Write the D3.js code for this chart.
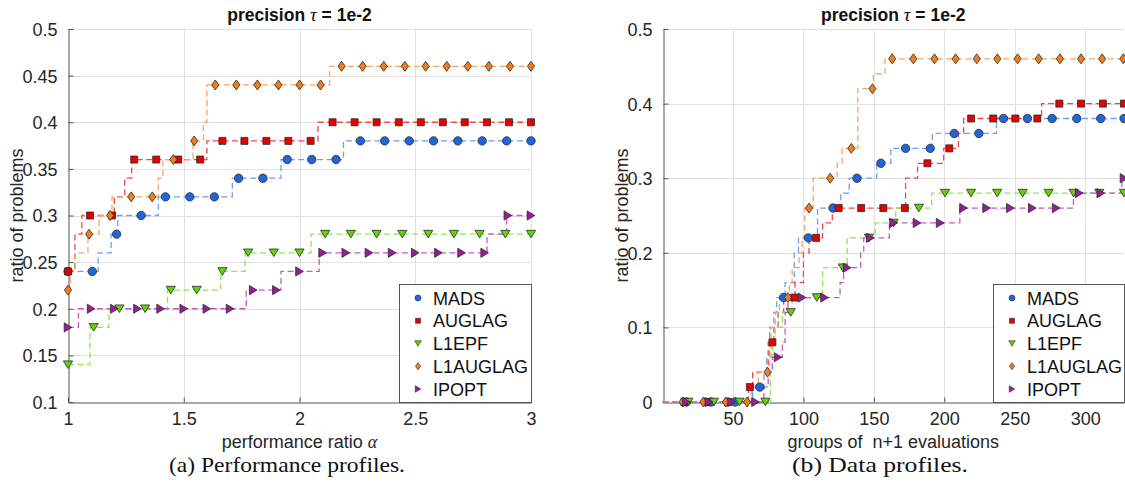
<!DOCTYPE html>
<html><head><meta charset="utf-8">
<script src="https://cdn.jsdelivr.net/npm/d3@7"></script>
<style>body{margin:0;background:#fff} svg{display:block}</style>
</head><body><svg id="chart" width="1125" height="487"></svg>
<script>
// ---------- data ----------
const seriesNames = ["MADS", "AUGLAG", "L1EPF", "L1AUGLAG", "IPOPT"];

// (a) performance profiles: step breakpoints (x) and ratio values (y), and marker abscissae
const perfMadsX = [1, 1.13, 1.186, 1.215, 1.39, 1.71, 1.92, 2.19, 3];
const perfMadsY = [0.24, 0.26, 0.28, 0.30, 0.32, 0.34, 0.36, 0.38, 0.38];
const perfMadsM = [1.0, 1.105, 1.21, 1.316, 1.421, 1.526, 1.632, 1.737, 1.842, 1.947, 2.053, 2.158, 2.263, 2.368, 2.474, 2.579, 2.684, 2.789, 2.895, 3.0];

const perfAuglagX = [1, 1.03, 1.06, 1.20, 1.245, 1.275, 1.60, 2.08, 3];
const perfAuglagY = [0.24, 0.28, 0.30, 0.32, 0.34, 0.36, 0.38, 0.40, 0.40];
const perfAuglagM = [1.0, 1.095, 1.19, 1.286, 1.381, 1.476, 1.571, 1.667, 1.762, 1.857, 1.952, 2.048, 2.143, 2.238, 2.333, 2.429, 2.524, 2.619, 2.714, 2.81, 2.905, 3.0];

const perfL1epfX = [1, 1.095, 1.177, 1.43, 1.66, 1.765, 2.05, 3];
const perfL1epfY = [0.14, 0.18, 0.20, 0.22, 0.24, 0.26, 0.28, 0.28];
const perfL1epfM = [1.0, 1.111, 1.222, 1.333, 1.444, 1.556, 1.667, 1.778, 1.889, 2.0, 2.111, 2.222, 2.333, 2.444, 2.556, 2.667, 2.778, 2.889, 3.0];

const perfL1auglagX = [1, 1.01, 1.03, 1.086, 1.134, 1.19, 1.39, 1.41, 1.54, 1.585, 1.60, 2.13, 3];
const perfL1auglagY = [0.22, 0.24, 0.26, 0.28, 0.30, 0.32, 0.34, 0.36, 0.38, 0.40, 0.44, 0.46, 0.46];
const perfL1auglagM = [1.0, 1.091, 1.182, 1.273, 1.364, 1.455, 1.545, 1.636, 1.727, 1.818, 1.909, 2.0, 2.091, 2.182, 2.273, 2.364, 2.455, 2.545, 2.636, 2.727, 2.818, 2.909, 3.0];

const perfIpoptX = [1, 1.045, 1.77, 1.92, 2.085, 2.81, 2.895, 3];
const perfIpoptY = [0.18, 0.20, 0.22, 0.24, 0.26, 0.28, 0.30, 0.30];
const perfIpoptM = [1.0, 1.1, 1.2, 1.3, 1.4, 1.5, 1.6, 1.7, 1.8, 1.9, 2.0, 2.1, 2.2, 2.3, 2.4, 2.5, 2.6, 2.7, 2.8, 2.9, 3.0];

// (b) data profiles
const dataMadsX = [0, 64, 72, 74, 76, 79, 81, 87, 93.5, 96.5, 110, 126.5, 132.5, 152, 162, 191.5, 237, 327.5];
const dataMadsY = [0, 0.02, 0.04, 0.06, 0.10, 0.12, 0.14, 0.16, 0.20, 0.22, 0.26, 0.28, 0.30, 0.32, 0.34, 0.36, 0.38, 0.38];
const dataMadsM = [17, 34.5, 51.5, 69, 86, 103.5, 121, 138, 155, 172.5, 190, 207, 224.5, 242, 259, 276.5, 294, 311, 327.5];

const dataAuglagX = [0, 61, 64, 75, 79, 82, 86, 94, 100, 104, 113.6, 120.5, 172.5, 181, 199.5, 210, 213.7, 269, 327.5];
const dataAuglagY = [0, 0.02, 0.04, 0.08, 0.10, 0.12, 0.14, 0.16, 0.20, 0.22, 0.24, 0.26, 0.30, 0.32, 0.34, 0.36, 0.38, 0.40, 0.40];
const dataAuglagM = [15.5, 31, 46.5, 62, 78, 93.5, 109, 125, 141, 156.7, 172, 188, 203.5, 219, 234.7, 250.4, 266, 281.6, 297, 312.5, 327.5];

const dataL1epfX = [0, 76.5, 78, 80, 85, 92, 113.6, 131, 151, 165.5, 191, 327.5];
const dataL1epfY = [0, 0.04, 0.08, 0.10, 0.12, 0.14, 0.18, 0.22, 0.24, 0.26, 0.28, 0.28];
const dataL1epfM = [18.4, 36.5, 54.6, 73, 91, 109.5, 128, 146.5, 164, 182, 200.5, 219, 237.5, 255.6, 274, 291.7, 310, 327.5];

const dataL1auglagX = [0, 63, 68, 76, 77, 80, 83, 90, 92, 97, 99, 101, 107, 124, 127.5, 138.6, 149.6, 158, 327.5];
const dataL1auglagY = [0, 0.02, 0.04, 0.06, 0.10, 0.12, 0.14, 0.16, 0.18, 0.20, 0.22, 0.26, 0.30, 0.32, 0.34, 0.42, 0.44, 0.46, 0.46];
const dataL1auglagM = [14.3, 29, 45, 60, 74.5, 89, 104, 119, 134, 149, 163, 178, 193, 208, 223, 237.6, 252, 267, 282, 297, 312, 327];

const dataIpoptX = [0, 72, 75, 78, 85, 87, 89, 126, 128.5, 140.6, 142.8, 161, 211, 291.6, 326, 327.5];
const dataIpoptY = [0, 0.02, 0.04, 0.06, 0.08, 0.12, 0.14, 0.16, 0.18, 0.20, 0.22, 0.24, 0.26, 0.28, 0.30, 0.30];
const dataIpoptM = [17, 33, 49, 66, 82, 99, 115, 131, 147.5, 164, 180.6, 197, 213.6, 230, 246.8, 262.4, 279.4, 295.7, 311, 327.5];

// ticks
const perfXTicks = [1, 1.5, 2, 2.5, 3];
const perfYTicks = [0.1, 0.15, 0.2, 0.25, 0.3, 0.35, 0.4, 0.45, 0.5];
const dataXTicks = [50, 100, 150, 200, 250, 300];
const dataYTicks = [0, 0.1, 0.2, 0.3, 0.4, 0.5];

// ---------- styles ----------
const markerFill = ["#1f66dd", "#e80000", "#63d400", "#f07d1a", "#9a1c9a"];
const lineColor  = ["#6f9ff0", "#f04848", "#8ce65a", "#f7a566", "#c45cc4"];
const shapes     = ["circle", "square", "triDown", "diamond", "triRight"];
const TEXT = "#262626";
const FONT = "'Liberation Sans', Arial, sans-serif";

function shapePath(shape, s) {
  switch (shape) {
    case "circle": { const r = 4.2 * s; return `M${r},0A${r},${r} 0 1,1 ${-r},0A${r},${r} 0 1,1 ${r},0Z`; }
    case "square": { const h = 3.5 * s; return `M${-h},${-h}H${h}V${h}H${-h}Z`; }
    case "diamond": { const w = 3.6 * s, h = 5 * s; return `M0,${-h}L${w},0L0,${h}L${-w},0Z`; }
    case "triDown": { const w = 4.6 * s, h = 3.8 * s; return `M${-w},${-h}L${w},${-h}L0,${h}Z`; }
    case "triRight": { const w = 3.8 * s, h = 4.6 * s; return `M${-w},${-h}L${w},0L${-w},${h}Z`; }
  }
}

const svg = d3.select("#chart");

function stepValue(xs, ys, x) {
  const i = Math.max(0, d3.bisectRight(xs, x) - 1);
  return ys[i];
}

function drawPanel(cfg) {
  const g = svg.append("g");
  const x = d3.scaleLinear().domain(cfg.xDomain).range(cfg.xRange);
  const y = d3.scaleLinear().domain(cfg.yDomain).range(cfg.yRange);
  const [x0, x1] = cfg.xRange, [y0, y1] = cfg.yRange;

  // grid
  g.append("g").selectAll("line").data(cfg.xTicks.filter(t => Math.abs(x(t) - x0) > 1))
    .join("line").attr("x1", d => Math.round(x(d)) + 0.5).attr("x2", d => Math.round(x(d)) + 0.5)
    .attr("y1", y0).attr("y2", y1).attr("stroke", "#e1e1e1").attr("stroke-width", 1);
  g.append("g").selectAll("line").data(cfg.yTicks.filter(t => Math.abs(y(t) - y0) > 1))
    .join("line").attr("y1", d => Math.round(y(d)) + 0.5).attr("y2", d => Math.round(y(d)) + 0.5)
    .attr("x1", x0).attr("x2", x1).attr("stroke", "#e1e1e1").attr("stroke-width", 1);

  // axes
  const xAxis = d3.axisBottom(x).tickValues(cfg.xTicks).tickFormat(d3.format("~g")).tickSizeInner(-5).tickSizeOuter(0).tickPadding(10);
  const yAxis = d3.axisLeft(y).tickValues(cfg.yTicks).tickFormat(d3.format("~g")).tickSizeInner(-5).tickSizeOuter(0).tickPadding(11);
  const gx = g.append("g").attr("transform", `translate(0,${Math.round(y0) + 0.5})`).call(xAxis);
  const gy = g.append("g").attr("transform", `translate(${Math.round(x0) + 0.5},0)`).call(yAxis);
  [gx, gy].forEach(a => {
    a.select(".domain").attr("stroke", "#555").attr("stroke-width", 1);
    a.selectAll(".tick line").attr("stroke", "#555");
    a.selectAll("text").attr("fill", TEXT).style("font-family", FONT).style("font-size", "18px");
  });
  gy.selectAll(".tick text").attr("dy", "0.36em");
  gx.selectAll(".tick text").attr("dy", "0.72em");

  // lines
  const line = d3.line().x(d => x(d[0])).y(d => y(d[1])).curve(d3.curveStepAfter);
  cfg.series.forEach((s, i) => {
    g.append("path").datum(d3.zip(s.x, s.y)).attr("d", line)
      .attr("fill", "none").attr("stroke", lineColor[i]).attr("stroke-width", 1.3)
      .attr("stroke-dasharray", "6,3.5");
  });
  // markers
  cfg.series.forEach((s, i) => {
    g.append("g").selectAll("path").data(s.m).join("path")
      .attr("transform", d => `translate(${x(d)},${y(stepValue(s.x, s.y, d))})`)
      .attr("d", shapePath(shapes[i], 1))
      .attr("fill", markerFill[i]).attr("stroke", "#2b2b2b").attr("stroke-width", 0.8);
  });

  // titles & labels
  const cx = (x0 + x1) / 2;
  const t = g.append("text").attr("x", cx).attr("y", 21).attr("text-anchor", "middle")
    .attr("fill", "#111").style("font-family", FONT).style("font-size", "17.5px").style("font-weight", "bold");
  t.append("tspan").text("precision ");
  t.append("tspan").text("τ").style("font-family", "'Liberation Serif', serif").style("font-style", "italic").style("font-weight", "normal").style("font-size", "19px");
  t.append("tspan").text(" = 1e-2");

  const xl = g.append("text").attr("x", cx).attr("y", 448).attr("text-anchor", "middle")
    .attr("fill", TEXT).style("font-family", FONT).style("font-size", "18px").style("white-space", "pre");
  xl.append("tspan").text(cfg.xLabel);
  if (cfg.xLabelGreek) xl.append("tspan").text(cfg.xLabelGreek).style("font-family", "'Liberation Serif', serif").style("font-style", "italic");

  g.append("text").attr("transform", `translate(${cfg.yLabelX},${(y0 + y1) / 2}) rotate(-90)`)
    .attr("text-anchor", "middle").attr("fill", TEXT).style("font-family", FONT).style("font-size", "18px")
    .text("ratio of problems");

  // legend
  const lg = g.append("g");
  lg.append("rect").attr("x", cfg.legend[0] + 0.5).attr("y", cfg.legend[1] + 0.5)
    .attr("width", cfg.legend[2]).attr("height", cfg.legend[3])
    .attr("fill", "#fff").attr("stroke", "#333").attr("stroke-width", 0.8);
  seriesNames.forEach((n, i) => {
    const yy = cfg.legend[1] + 14 + i * 22.75;
    lg.append("path").attr("transform", `translate(${cfg.legend[0] + 19},${yy})`)
      .attr("d", shapePath(shapes[i], 0.72)).attr("fill", markerFill[i]).attr("stroke", "#2b2b2b").attr("stroke-width", 0.6);
    lg.append("text").attr("x", cfg.legend[0] + 34).attr("y", yy + 6.5).attr("fill", "#111")
      .style("font-family", FONT).style("font-size", "18px").text(n);
  });

  // caption
  svg.append("text").attr("x", cfg.caption[1]).attr("y", 472).attr("text-anchor", "middle")
    .attr("fill", "#111").style("font-family", "'Liberation Serif', 'Times New Roman', serif").style("font-size", "21px")
    .attr("textLength", cfg.caption[2]).attr("lengthAdjust", "spacingAndGlyphs")
    .text(cfg.caption[0]);
}

drawPanel({
  xDomain: [1, 3], xRange: [68, 531], yDomain: [0.1, 0.5], yRange: [402, 29],
  xTicks: perfXTicks, yTicks: perfYTicks,
  series: [
    { x: perfMadsX, y: perfMadsY, m: perfMadsM },
    { x: perfAuglagX, y: perfAuglagY, m: perfAuglagM },
    { x: perfL1epfX, y: perfL1epfY, m: perfL1epfM },
    { x: perfL1auglagX, y: perfL1auglagY, m: perfL1auglagM },
    { x: perfIpoptX, y: perfIpoptY, m: perfIpoptM }
  ],
  xLabel: "performance ratio ", xLabelGreek: "α",
  yLabelX: 23,
  legend: [399, 284, 132, 118],
  caption: ["(a) Performance profiles.", 287, 236]
});

drawPanel({
  xDomain: [0, 327.5], xRange: [662.5, 1124], yDomain: [0, 0.5], yRange: [402, 29],
  xTicks: dataXTicks, yTicks: dataYTicks,
  series: [
    { x: dataMadsX, y: dataMadsY, m: dataMadsM },
    { x: dataAuglagX, y: dataAuglagY, m: dataAuglagM },
    { x: dataL1epfX, y: dataL1epfY, m: dataL1epfM },
    { x: dataL1auglagX, y: dataL1auglagY, m: dataL1auglagM },
    { x: dataIpoptX, y: dataIpoptY, m: dataIpoptM }
  ],
  xLabel: "groups of  n+1 evaluations", xLabelGreek: null,
  yLabelX: 628,
  legend: [993, 284, 131, 118],
  caption: ["(b) Data profiles.", 880, 176]
});
</script></body></html>
